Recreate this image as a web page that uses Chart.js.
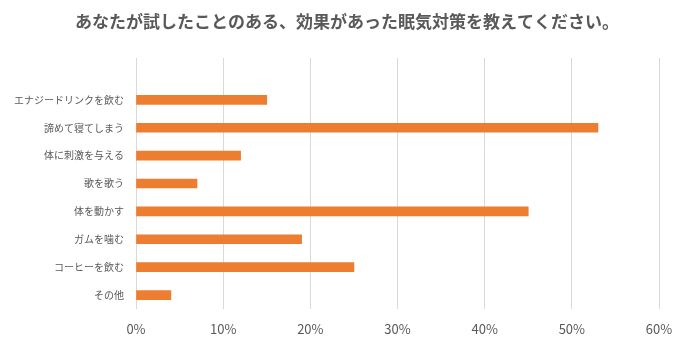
<!DOCTYPE html>
<html>
<head>
<meta charset="utf-8">
<script src="https://cdn.jsdelivr.net/npm/chart.js@4"></script>
<style>
html,body{margin:0;padding:0;background:#fff;}
#c{display:block;}
</style>
</head>
<body>
<canvas id="c" width="690" height="356"></canvas>
<script>
const titleText = "あなたが試したことのある、効果があった眠気対策を教えてください。";
const categories = ["", "エナジードリンクを飲む", "諦めて寝てしまう", "体に刺激を与える", "歌を歌う", "体を動かす", "ガムを噛む", "コーヒーを飲む", "その他"];
const values = [null, 15, 53, 12, 7, 45, 19, 25, 4];
const xTicks = [0, 10, 20, 30, 40, 50, 60];

const FONT = "'Noto Sans CJK JP', 'Noto Sans', sans-serif";
const GRAY = "#595959";

const titlePlugin = {
  id: 'centerTitle',
  afterDraw(chart) {
    const ctx = chart.ctx;
    ctx.save();
    ctx.font = "bold 17px " + FONT;
    ctx.fillStyle = GRAY;
    ctx.textAlign = 'center';
    ctx.textBaseline = 'middle';
    ctx.fillText(titleText, 347, 22);
    ctx.restore();
  }
};

new Chart(document.getElementById('c'), {
  type: 'bar',
  data: {
    labels: categories,
    datasets: [{
      data: values,
      backgroundColor: '#ED7D31',
      borderWidth: 0,
      barThickness: 9
    }]
  },
  plugins: [titlePlugin],
  options: {
    indexAxis: 'y',
    responsive: false,
    animation: false,
    layout: { padding: { left: 0, right: 31, top: 58, bottom: 0 } },
    plugins: {
      legend: { display: false },
      tooltip: { enabled: false },
      title: { display: false }
    },
    scales: {
      x: {
        min: xTicks[0],
        max: xTicks[xTicks.length - 1],
        afterBuildTicks: (s) => { s.ticks = xTicks.map(v => ({ value: v })); },
        afterFit: (s) => { s.height = 47; },
        grid: { color: '#d9d9d9', lineWidth: 1, drawTicks: false },
        border: { display: false },
        ticks: {
          color: GRAY,
          padding: 12,
          font: { family: FONT, size: 13 },
          callback: (v) => v + '%'
        }
      },
      y: {
        afterFit: (s) => { s.width = 136; },
        grid: { display: false, drawTicks: false },
        border: { display: false },
        ticks: {
          color: GRAY,
          padding: 12,
          autoSkip: false,
          font: { family: FONT, size: 10 }
        }
      }
    }
  }
});
</script>
</body>
</html>
